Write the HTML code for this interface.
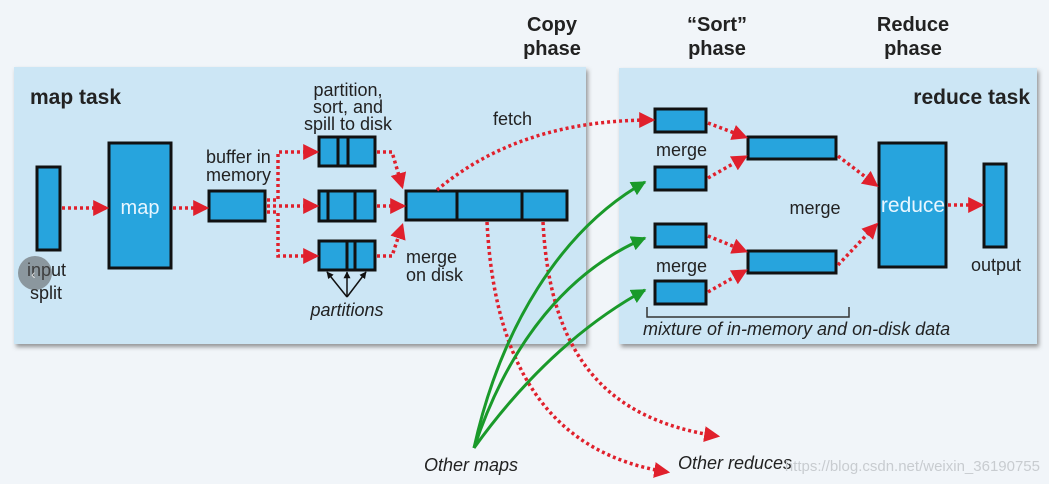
<!DOCTYPE html>
<html><head><meta charset="utf-8"><style>
html,body{margin:0;padding:0;background:#f1f5f9;}
svg{display:block;}
text{font-family:"Liberation Sans Narrow","Liberation Sans",sans-serif;fill:#222;}
</style></head><body>
<svg width="1049" height="484" viewBox="0 0 1049 484" xmlns="http://www.w3.org/2000/svg">
<defs>
<marker id="ra" viewBox="0 0 10 10" refX="8" refY="5" markerWidth="16" markerHeight="16" orient="auto" markerUnits="userSpaceOnUse"><path d="M0,0 L10,5 L0,10 z" fill="#e0202c"/></marker>
<marker id="ga" viewBox="0 0 10 10" refX="9" refY="5" markerWidth="15" markerHeight="15" orient="auto" markerUnits="userSpaceOnUse"><path d="M0,0 L10,5 L0,10 z" fill="#1a9a2a"/></marker>
<marker id="ka" viewBox="0 0 10 10" refX="9" refY="5" markerWidth="7" markerHeight="7" orient="auto" markerUnits="userSpaceOnUse"><path d="M0,0 L10,5 L0,10 z" fill="#111"/></marker>
<filter id="sh" x="-5%" y="-5%" width="110%" height="115%"><feDropShadow dx="2" dy="3" stdDeviation="2" flood-color="#555" flood-opacity="0.6"/></filter>
</defs>
<rect width="1049" height="484" fill="#f1f5f9"/>
<rect x="14" y="67" width="572" height="277" fill="#cce6f5" filter="url(#sh)"/>
<rect x="619" y="68" width="418" height="276" fill="#cce6f5" filter="url(#sh)"/>

<g font-weight="bold" font-size="20" text-anchor="middle">
<text x="552" y="31">Copy</text><text x="552" y="55">phase</text>
<text x="717" y="31">“Sort”</text><text x="717" y="55">phase</text>
<text x="913" y="31">Reduce</text><text x="913" y="55">phase</text>
</g>
<text x="30" y="104" font-size="21" font-weight="bold">map task</text>
<text x="1030" y="104" font-size="21" font-weight="bold" text-anchor="end">reduce task</text>

<g fill="#27a4dd" stroke="#111" stroke-width="3">
<rect x="37" y="167" width="23" height="83"/>
<rect x="109" y="143" width="62" height="125"/>
<rect x="209" y="191" width="56" height="30"/>
<rect x="319" y="137" width="56" height="29"/>
<rect x="319" y="191" width="56" height="30"/>
<rect x="319" y="241" width="56" height="29"/>
<rect x="406" y="191" width="161" height="29"/>
<rect x="655" y="109" width="51" height="23"/>
<rect x="655" y="167" width="51" height="23"/>
<rect x="655" y="224" width="51" height="23"/>
<rect x="655" y="281" width="51" height="23"/>
<rect x="748" y="137" width="88" height="22"/>
<rect x="748" y="251" width="88" height="22"/>
<rect x="879" y="143" width="67" height="124"/>
<rect x="984" y="164" width="22" height="83"/>
</g>
<g stroke="#111" stroke-width="3">
<line x1="338" y1="137" x2="338" y2="166"/><line x1="348" y1="137" x2="348" y2="166"/>
<line x1="328" y1="191" x2="328" y2="221"/><line x1="355" y1="191" x2="355" y2="221"/>
<line x1="347" y1="241" x2="347" y2="270"/><line x1="355" y1="241" x2="355" y2="270"/>
<line x1="457" y1="191" x2="457" y2="220"/><line x1="522" y1="191" x2="522" y2="220"/>
</g>
<text x="140" y="214" font-size="20" style="fill:#e8f6ff" text-anchor="middle">map</text>
<text x="913" y="212" font-size="21" style="fill:#e8f6ff" text-anchor="middle">reduce</text>

<g fill="none" stroke="#e0202c" stroke-width="3.5" stroke-dasharray="3,3" marker-end="url(#ra)">
<line x1="62" y1="208" x2="106" y2="208"/>
<line x1="173" y1="208" x2="206" y2="208"/>
<polyline points="267,200 278,200 278,152 316,152"/>
<line x1="267" y1="206" x2="316" y2="206"/>
<polyline points="267,212 278,212 278,256 316,256"/>
<polyline points="377,152 392,152 402,186"/>
<line x1="377" y1="206" x2="403" y2="206"/>
<polyline points="377,256 392,256 402,226"/>
<path d="M437,190 Q520,120 652,120"/>
<path d="M708,123 L745,137"/>
<path d="M708,178 L745,157"/>
<path d="M708,236 L745,251"/>
<path d="M708,292 L745,271"/>
<path d="M838,156 L876,185"/>
<path d="M838,265 L876,225"/>
<line x1="948" y1="205" x2="981" y2="205"/>
<path d="M487,222 C495,380 560,455 667,472"/>
<path d="M543,222 C550,360 610,420 717,436"/>
</g>
<g fill="none" stroke="#1a9a2a" stroke-width="3" marker-end="url(#ga)">
<path d="M474,448 C500,330 560,230 645,182"/>
<path d="M474,448 C510,340 570,270 645,238"/>
<path d="M474,448 C530,370 590,320 645,290"/>
</g>
<g stroke="#111" stroke-width="1.5" marker-end="url(#ka)">
<line x1="347" y1="297" x2="327" y2="272"/>
<line x1="347" y1="297" x2="347" y2="272"/>
<line x1="347" y1="297" x2="366" y2="272"/>
</g>
<polyline points="647,307 647,317 849,317 849,307" fill="none" stroke="#333" stroke-width="1.5"/>

<g font-size="18">
<text x="348" y="96" text-anchor="middle">partition,</text>
<text x="348" y="113" text-anchor="middle">sort, and</text>
<text x="348" y="130" text-anchor="middle">spill to disk</text>
<text x="206" y="163">buffer in</text>
<text x="206" y="181">memory</text>
<text x="406" y="263">merge</text>
<text x="406" y="281">on disk</text>
<text x="493" y="125">fetch</text>
<text x="27" y="276">input</text>
<text x="30" y="299">split</text>
<text x="656" y="156">merge</text>
<text x="656" y="272">merge</text>
<text x="815" y="214" text-anchor="middle">merge</text>
<text x="996" y="271" text-anchor="middle">output</text>
<text x="347" y="316" text-anchor="middle" font-style="italic">partitions</text>
<text x="643" y="335" font-style="italic">mixture of in-memory and on-disk data</text>
<text x="424" y="471" font-style="italic">Other maps</text>
<text x="678" y="469" font-style="italic">Other reduces</text>
</g>
<text x="1040" y="471" font-size="15" text-anchor="end" style="fill:#c8ccd0">https://blog.csdn.net/weixin_36190755</text>
<circle cx="35" cy="273" r="17" fill="#555" opacity="0.55"/>
<text x="31" y="279" font-size="14" style="fill:#ddd">‹</text>
</svg>
</body></html>
